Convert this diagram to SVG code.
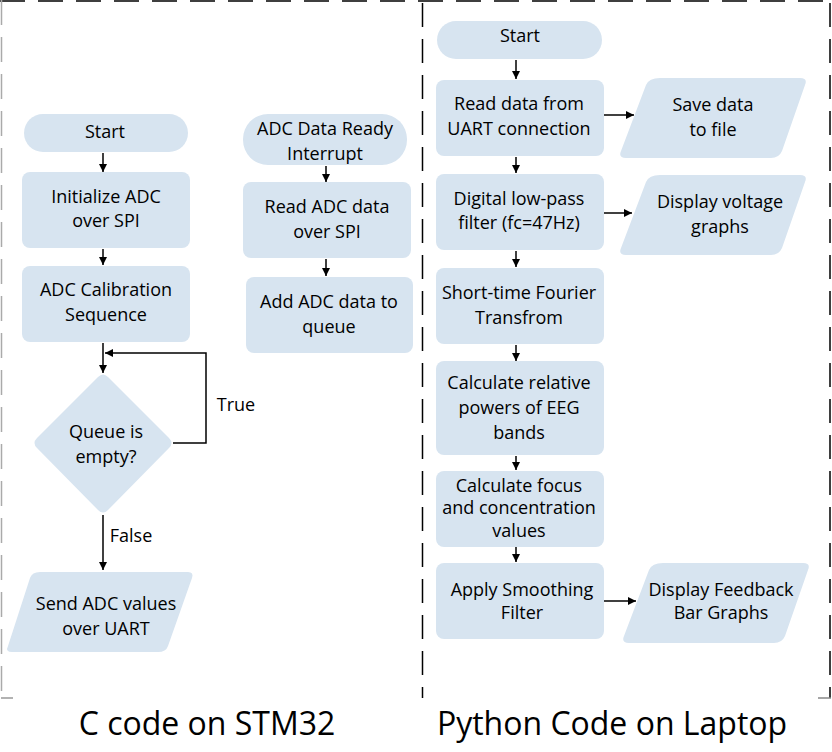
<svg xmlns="http://www.w3.org/2000/svg" width="832" height="752" viewBox="0 0 832 752">
<defs>
<style>
.n{fill:#d7e4f0;stroke:none}
.t{font-family:"Open Sans","Noto Sans",sans-serif;font-size:18px;fill:#000;text-anchor:middle}
.c{stroke:#000;stroke-width:1.5;fill:none}
.title{font-family:"Open Sans","Noto Sans",sans-serif;font-size:32px;fill:#000;text-anchor:middle}
</style>
<marker id="ah" viewBox="0 0 10 10" refX="10" refY="5" markerWidth="8" markerHeight="8" markerUnits="userSpaceOnUse" orient="auto">
<path d="M0,0 L10,5 L0,10 z" fill="#000"/>
</marker>
</defs>
<rect width="832" height="752" fill="#fff"/>
<g id="frames">
<line x1="0" y1="1" x2="832" y2="1" stroke="#000" stroke-width="1.5" stroke-dasharray="25 13"/>
<line x1="1.5" y1="0" x2="1.5" y2="698" stroke="#aaa" stroke-width="1.5" stroke-dasharray="25 12"/>
<line x1="1" y1="698" x2="13" y2="698" stroke="#999" stroke-width="1.5"/>
<line x1="422.5" y1="3" x2="422.5" y2="698" stroke="#000" stroke-width="1.5" stroke-dasharray="24 12"/>
<line x1="830" y1="3" x2="830" y2="698" stroke="#000" stroke-width="1.5" stroke-dasharray="24 12"/>
<line x1="818" y1="698" x2="831" y2="698" stroke="#888" stroke-width="1.5"/>
</g>
<g id="connectors">
<line class="c" x1="103" y1="153" x2="103" y2="172" marker-end="url(#ah)"/>
<line class="c" x1="103" y1="249" x2="103" y2="265" marker-end="url(#ah)"/>
<line class="c" x1="103" y1="343" x2="103" y2="373" marker-end="url(#ah)"/>
<polyline class="c" points="173,443 206,443 206,353 105,353" marker-end="url(#ah)"/>
<line class="c" x1="103" y1="515" x2="103" y2="570" marker-end="url(#ah)"/>
<line class="c" x1="326" y1="166" x2="326" y2="182" marker-end="url(#ah)"/>
<line class="c" x1="326" y1="259" x2="326" y2="276" marker-end="url(#ah)"/>
<line class="c" x1="516" y1="60" x2="516" y2="79" marker-end="url(#ah)"/>
<line class="c" x1="516" y1="157" x2="516" y2="173" marker-end="url(#ah)"/>
<line class="c" x1="516" y1="251" x2="516" y2="267" marker-end="url(#ah)"/>
<line class="c" x1="516" y1="345" x2="516" y2="361" marker-end="url(#ah)"/>
<line class="c" x1="516" y1="456" x2="516" y2="470" marker-end="url(#ah)"/>
<line class="c" x1="516" y1="547" x2="516" y2="562" marker-end="url(#ah)"/>
<line class="c" x1="604" y1="115" x2="634" y2="115" marker-end="url(#ah)"/>
<line class="c" x1="604" y1="213" x2="632" y2="213" marker-end="url(#ah)"/>
<line class="c" x1="604" y1="601" x2="636" y2="601" marker-end="url(#ah)"/>
<text class="t" x="236" y="411">True</text>
<text class="t" x="131" y="542">False</text>
</g>
<g id="start1">
<rect class="n" x="24" y="114" width="164" height="38" rx="19"/>
<text class="t" x="105" y="138">Start</text>
</g>
<g id="initadc">
<rect class="n" x="22" y="172" width="168" height="76" rx="8"/>
<text class="t" x="106" y="203">Initialize ADC</text>
<text class="t" x="106" y="227">over SPI</text>
</g>
<g id="calib">
<rect class="n" x="22" y="266" width="168" height="76" rx="8"/>
<text class="t" x="106" y="296">ADC Calibration</text>
<text class="t" x="106" y="321">Sequence</text>
</g>
<g id="queue">
<path class="n" d="M98,377 Q103,372 108,377 L169,438 Q174,443 169,448 L108,510 Q103,515 98,510 L37,448 Q32,443 37,438 Z"/>
<text class="t" x="106" y="438">Queue is</text>
<text class="t" x="106" y="463">empty?</text>
</g>
<g id="send">
<path class="n" d="M40,572 L188,572 Q194,572 192,578 L168,646 Q166,652 158,652 L12,652 Q5,652 8,646 L30,578 Q32,572 40,572 Z"/>
<text class="t" x="106" y="610">Send ADC values</text>
<text class="t" x="106" y="635">over UART</text>
</g>
<g id="interrupt">
<rect class="n" x="243" y="114" width="164" height="51" rx="25"/>
<text class="t" x="325" y="135">ADC Data Ready</text>
<text class="t" x="325" y="160">Interrupt</text>
</g>
<g id="readadc">
<rect class="n" x="243" y="182" width="168" height="76" rx="8"/>
<text class="t" x="327" y="213">Read ADC data</text>
<text class="t" x="327" y="238">over SPI</text>
</g>
<g id="addqueue">
<rect class="n" x="246" y="277" width="167" height="76" rx="8"/>
<text class="t" x="329" y="308">Add ADC data to</text>
<text class="t" x="329" y="333">queue</text>
</g>
<g id="start2">
<rect class="n" x="437" y="21" width="165" height="38" rx="19"/>
<text class="t" x="520" y="42">Start</text>
</g>
<g id="readuart">
<rect class="n" x="436" y="80" width="168" height="76" rx="8"/>
<text class="t" x="519" y="110">Read data from</text>
<text class="t" x="519" y="135">UART connection</text>
</g>
<g id="savedata">
<path class="n" d="M660,78 L800,78 Q808,78 805,85 L782,151 Q779,158 771,158 L626,158 Q618,158 621,151 L646,85 Q649,78 660,78 Z"/>
<text class="t" x="713" y="111">Save data</text>
<text class="t" x="713" y="136">to file</text>
</g>
<g id="lowpass">
<rect class="n" x="436" y="174" width="168" height="76" rx="8"/>
<text class="t" x="519" y="205">Digital low-pass</text>
<text class="t" x="519" y="229">filter (fc=47Hz)</text>
</g>
<g id="voltage">
<path class="n" d="M660,175 L800,175 Q808,175 805,182 L782,248 Q779,255 771,255 L626,255 Q618,255 621,248 L646,182 Q649,175 660,175 Z"/>
<text class="t" x="720" y="208">Display voltage</text>
<text class="t" x="720" y="233">graphs</text>
</g>
<g id="stft">
<rect class="n" x="436" y="268" width="168" height="76" rx="8"/>
<text class="t" x="519" y="299">Short-time Fourier</text>
<text class="t" x="519" y="324">Transfrom</text>
</g>
<g id="relpow">
<rect class="n" x="436" y="361" width="168" height="94" rx="8"/>
<text class="t" x="519" y="389">Calculate relative</text>
<text class="t" x="519" y="414">powers of EEG</text>
<text class="t" x="519" y="439">bands</text>
</g>
<g id="focus">
<rect class="n" x="436" y="471" width="168" height="76" rx="8"/>
<text class="t" x="519" y="492">Calculate focus</text>
<text class="t" x="519" y="514">and concentration</text>
<text class="t" x="519" y="537">values</text>
</g>
<g id="smooth">
<rect class="n" x="436" y="563" width="168" height="76" rx="8"/>
<text class="t" x="522" y="596">Apply Smoothing</text>
<text class="t" x="522" y="619">Filter</text>
</g>
<g id="feedback">
<path class="n" d="M663,563 L803,563 Q811,563 808,570 L785,636 Q782,643 774,643 L629,643 Q621,643 624,636 L649,570 Q652,563 663,563 Z"/>
<text class="t" x="721" y="596">Display Feedback</text>
<text class="t" x="721" y="619">Bar Graphs</text>
</g>
<g id="titles">
<text class="title" x="207" y="735">C code on STM32</text>
<text class="title" x="612" y="735">Python Code on Laptop</text>
</g>
</svg>
